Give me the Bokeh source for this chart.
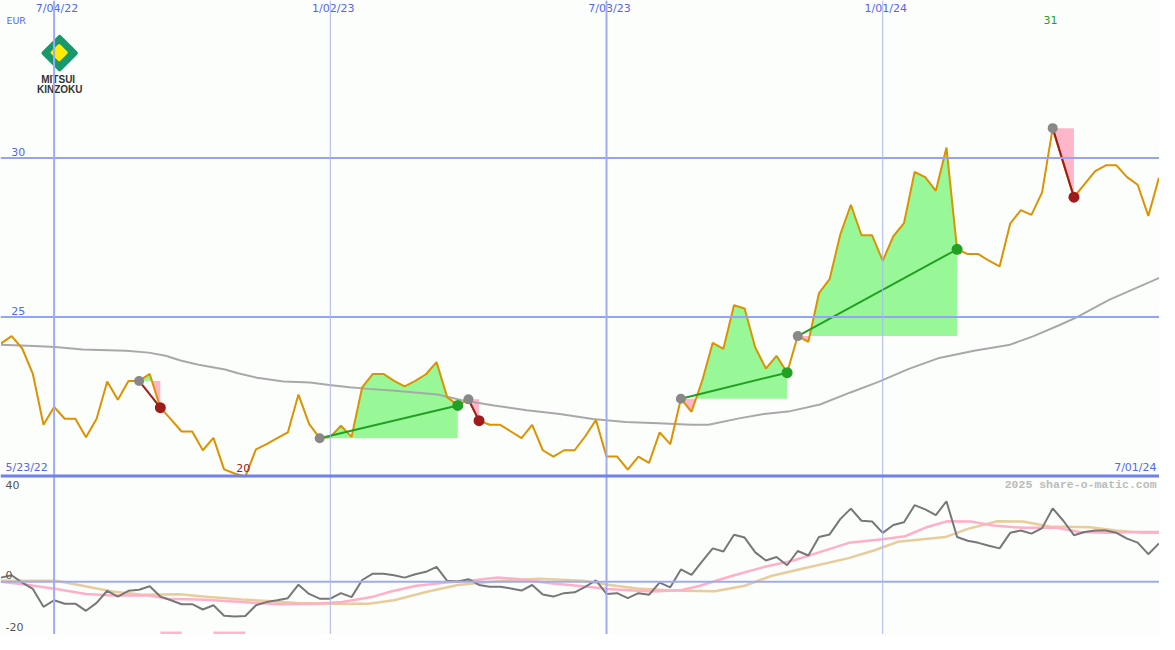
import numpy as np
import pandas as pd
from bokeh.plotting import figure
from bokeh.models import Range1d, Span
from bokeh.embed import file_html
from bokeh.resources import INLINE
from bokeh.core.properties import value

# ---------------- data ----------------
START = pd.Timestamp("2022-05-30")          # first weekly point
price = [24.17, 24.40, 24.01, 23.21, 21.61, 22.17, 21.80, 21.80, 21.22, 21.80,
         22.97, 22.40, 22.99, 22.99, 23.21, 22.15, 21.78, 21.40, 21.40, 20.81,
         21.20, 20.21, 20.08, 19.98, 20.84, 21.00, 21.19, 21.37, 22.56, 21.64,
         21.19, 21.23, 21.58, 21.23, 22.79, 23.21, 23.21, 22.99, 22.82, 22.99,
         23.20, 23.58, 22.48, 22.22, 22.41, 21.74, 21.61, 21.61, 21.40, 21.19,
         21.61, 20.81, 20.61, 20.81, 20.81, 21.25, 21.76, 20.61, 20.61, 20.20,
         20.61, 20.41, 21.37, 21.00, 22.43, 22.02, 22.99, 24.19, 24.00, 25.37,
         25.27, 24.04, 23.38, 23.78, 23.25, 24.40, 24.22, 25.75, 26.19, 27.59,
         28.53, 27.57, 27.57, 26.77, 27.54, 27.95, 29.56, 29.40, 28.97, 30.33,
         27.13, 26.98, 26.98, 26.77, 26.59, 27.94, 28.36, 28.21, 28.92, 30.94,
         29.83, 28.77, 29.18, 29.59, 29.77, 29.77, 29.40, 29.16, 28.18, 29.38]

ma_idx = [0, 3.1, 5.1, 7.7, 11.8, 13.9, 15.5, 16.9, 18.6, 21.1, 22.3, 24.1, 26.6, 29.1,
          30.9, 32.8, 34.6, 37.1, 41.1, 43.4, 46.4, 49.5, 52.6, 55.7, 58.8, 61.9, 65.0,
          66.6, 69.6, 71.8, 74.3, 77.1, 79.9, 82.6, 85.4, 88.2, 91.6, 95.0, 97.2, 99.6,
          101.2, 104.3, 109.1]
ma_val = [24.13, 24.09, 24.06, 23.98, 23.94, 23.88, 23.78, 23.63, 23.50, 23.35, 23.23,
          23.09, 22.97, 22.94, 22.86, 22.79, 22.74, 22.68, 22.56, 22.38, 22.22, 22.07,
          21.95, 21.79, 21.70, 21.66, 21.61, 21.61, 21.82, 21.95, 22.04, 22.25, 22.62,
          22.96, 23.36, 23.70, 23.94, 24.13, 24.40, 24.74, 24.98, 25.54, 26.24]

entry_idx = [13, 30, 44, 64, 75, 99]
exit_idx = [15, 43, 45, 74, 90, 101]

osc_gray = [1.6, 2.5, -0.3, -2.7, -9.5, -7.0, -8.3, -8.3, -11.0, -8.0,
            -3.4, -5.6, -3.4, -3.0, -1.7, -5.6, -7.0, -8.5, -8.5, -10.5,
            -8.9, -12.9, -13.2, -13.0, -8.9, -7.7, -7.0, -6.2, -1.1, -4.6,
            -6.4, -6.4, -4.3, -5.8, 0.7, 3.1, 3.1, 2.5, 1.6, 2.9,
            3.8, 5.7, 0.4, 0.1, 1.0, -1.2, -1.9, -1.9, -2.5, -3.3,
            -1.2, -4.8, -5.6, -4.3, -4.0, -1.9, 0.6, -4.6, -4.3, -6.2,
            -4.3, -4.9, -0.3, -2.1, 4.7, 2.6, 7.8, 12.7, 11.5, 17.9,
            16.8, 11.2, 8.1, 9.4, 6.3, 11.7, 10.0, 17.0, 18.0, 23.8,
            27.8, 23.2, 22.9, 18.6, 21.6, 22.6, 29.1, 27.5, 25.3, 30.6,
            17.0, 15.6, 14.8, 13.7, 12.7, 18.6, 19.5, 18.3, 20.4, 27.9,
            23.2, 17.7, 18.9, 19.5, 19.5, 18.6, 16.4, 14.9, 10.5, 14.6]

pink_idx = [0, 2.1, 5.2, 8.0, 10.5, 14.0, 15.7, 19.2, 22.7, 26.2, 29.7, 32.1, 34.9, 36.7,
            39.1, 41.9, 44.7, 46.8, 48.9, 51.7, 54.8, 57.1, 61.3, 64.1, 65.8, 69.0, 71.8,
            74.6, 77.0, 79.8, 83.0, 85.1, 87.1, 89.1, 91.3, 93.4, 96.2, 99.4, 101.5, 104.3,
            106.7, 109.1]
pink_val = [0.0, -0.9, -2.7, -4.6, -5.2, -5.2, -6.4, -6.8, -7.7, -8.5, -8.3, -7.7, -5.8,
            -3.7, -1.5, -0.3, 0.7, 1.6, 1.0, -0.5, -1.7, -2.7, -3.7, -3.1, -1.5, 2.5, 5.6,
            8.1, 11.2, 14.8, 16.2, 17.3, 20.7, 23.0, 22.9, 21.4, 20.5, 20.5, 18.9, 18.6,
            18.9, 18.9]

tan_idx = [0, 5.2, 7.7, 10.5, 13.3, 16.8, 19.6, 22.7, 25.2, 27.9, 31.4, 34.6, 37.0, 40.2,
           43.0, 45.4, 47.9, 50.6, 54.8, 57.1, 59.9, 63.0, 67.2, 70.0, 72.5, 75.3, 79.8,
           82.3, 84.4, 88.9, 91.0, 93.8, 96.2, 98.7, 102.5, 105.0, 107.4, 109.1]
tan_val = [0.4, 0.4, -1.5, -3.7, -4.9, -4.7, -5.8, -6.7, -7.3, -8.0, -8.3, -8.3, -7.0,
           -3.7, -1.2, -0.3, 0.6, 1.2, 0.4, -1.1, -2.5, -3.3, -3.6, -1.5, 2.2, 4.9, 9.0,
           12.1, 15.2, 17.0, 20.1, 23.0, 22.9, 21.0, 20.7, 19.5, 18.6, 18.6]

bar_left = [15, 20]
bar_right = [17, 23]

vline_dates = ["2022-07-04", "2023-01-02", "2023-07-03", "2024-01-01"]
vline_labels = ["7/04/22", "1/02/23", "7/03/23", "1/01/24"]
vline_major = [True, False, True, False]
price_levels = [30, 25]
first_label, last_label = "5/23/22", "7/01/24"
osc_labels = ["40", "0", "-20"]

# ---------------- geometry ----------------
W, H = 1159, 634
REF_W, REF_H = 1175, 650
PXW = 10.77
X0 = -0.046
X1 = X0 + REF_W / PXW


def dx(px):
    return X0 + px / PXW


def dy(px):
    return 30 - (px - 161.5) / 32.6


def do(px):
    return 40 - (px - 488) * 60.0 / 162.0


BG = "#fcfefc"
BLUE_TXT = "#5566ee"
ORANGE = "#dd9200"
GREEN_FILL = "#98f898"
PINK_FILL = "#ffb6c8"

p = figure(width=W, height=H, x_range=Range1d(X0, X1), y_range=Range1d(dy(REF_H), dy(0)),
           output_backend="svg", toolbar_location=None, min_border=0,
           x_axis_type=None, y_axis_type=None,
           background_fill_color=BG, border_fill_color=BG, outline_line_color=None)
p.extra_y_ranges = {"osc": Range1d(do(REF_H), do(0))}

# grid lines
for lvl in price_levels:
    p.add_layout(Span(location=lvl, dimension="width", line_color="#94a4f4", line_width=2))
p.add_layout(Span(location=0, dimension="width", line_color="#9cacf4", line_width=2,
                  y_range_name="osc"))
vidx = [(pd.Timestamp(d) - START).days / 7.0 for d in vline_dates]
for xi, major in zip(vidx, vline_major):
    p.add_layout(Span(location=xi, dimension="height",
                      line_color="#9eacf4" if major else "#aab6f2",
                      line_width=2 if major else 1))

# trade fills
pr = np.array(price)
for e, x in zip(entry_idx, exit_idx):
    lvl = pr[e]
    xs, ys = [], []
    for i in range(e, x + 1):
        if i > e:
            a, b = pr[i - 1] - lvl, pr[i] - lvl
            if a * b < 0:
                t = a / (a - b)
                xs.append(i - 1 + t)
                ys.append(lvl)
        xs.append(i)
        ys.append(pr[i])
    xs = np.array(xs, dtype=float)
    ys = np.array(ys)
    base = np.full_like(ys, lvl)
    p.varea(x=xs, y1=base, y2=np.maximum(ys, lvl), fill_color=GREEN_FILL)
    p.varea(x=xs, y1=base, y2=np.minimum(ys, lvl), fill_color=PINK_FILL)

# moving average
p.line(ma_idx, ma_val, line_color="#a8a8a8", line_width=2)

# oscillator lines
p.line(tan_idx, tan_val, line_color="#e8cc9c", line_width=2.5, y_range_name="osc")
p.line(pink_idx, pink_val, line_color="#ffb0c8", line_width=2.5, y_range_name="osc")
p.line(list(range(len(osc_gray))), osc_gray, line_color="#777777", line_width=2,
       y_range_name="osc")
p.quad(left=bar_left, right=bar_right, bottom=-20.5, top=-18.9, fill_color=PINK_FILL,
       line_color=None, y_range_name="osc")

# boundary line between panels
p.add_layout(Span(location=20, dimension="width", line_color="#7080ee", line_width=3))

# price
p.line(list(range(len(price))), price, line_color=ORANGE, line_width=2)

# trade lines & dots
for e, x in zip(entry_idx, exit_idx):
    win = pr[x] > pr[e]
    col = "#22a022" if win else "#a01c1c"
    p.line([e, x], [pr[e], pr[x]], line_color=col, line_width=2)
    p.scatter([e], [pr[e]], size=10, fill_color="#888888", line_color=None)
    p.scatter([x], [pr[x]], size=11, fill_color=col, line_color=None)

# ---------------- texts ----------------
F = value("DejaVu Sans")


def txt(xp, yp, s, color, align="left", size="11px", font=F, style="normal", yfun=dy):
    p.text(x=[dx(xp)], y=[yfun(yp)], text=[s], text_color=color, text_align=align,
           text_baseline="middle", text_font=font, text_font_size=size,
           text_font_style=style)


for xi, lab in zip(vidx, vline_labels):
    p.text(x=[xi + 3 / PXW], y=[dy(8)], text=[lab], text_color=BLUE_TXT, text_align="center",
           text_baseline="middle", text_font=F, text_font_size="11px")
txt(6, 20, "EUR", BLUE_TXT, size="9.5px")
for lvl in price_levels:
    p.text(x=[dx(11)], y=[lvl + 6 / 32.6], text=[str(lvl)], text_color=BLUE_TXT,
           text_align="left", text_baseline="middle", text_font=F, text_font_size="11px")
txt(5, 479, first_label, BLUE_TXT)
txt(1172, 479, last_label, BLUE_TXT, align="right")

imin = int(np.argmin(pr))
imax = int(np.argmax(pr))
p.text(x=[imin - 0.2], y=[dy(479)], text=[f"{pr[imin]:.0f}"], text_color="#a01c1c",
       text_align="center", text_baseline="middle", text_font=F, text_font_size="11px")
p.text(x=[imax - 0.2], y=[dy(20)], text=[f"{pr[imax]:.0f}"], text_color="#22a022",
       text_align="center", text_baseline="middle", text_font=F, text_font_size="11px")

txt(1172, 496, "2025 share-o-matic.com", "#bbbbbb", align="right", size="11.5px",
    font=value("Liberation Mono"), style="bold")
for lab, yp in zip(osc_labels, [497, 589, 642]):
    txt(5, yp, lab, "#555555")

# logo
p.scatter([dx(60)], [dy(54)], marker="square", size=23, angle=np.pi / 4,
          fill_color="#17996d", line_color="#17996d", line_width=4, line_join="round")
p.scatter([dx(59.5)], [dy(53.5)], marker="square", size=10, angle=np.pi / 4,
          fill_color="#ffec00", line_color="#ffec00", line_width=3, line_join="round")
txt(58.5, 81, "MITSUI", "#333333", align="center", size="10px", style="bold",
    font=value("Liberation Sans"))
txt(60, 91, "KINZOKU", "#333333", align="center", size="10px", style="bold",
    font=value("Liberation Sans"))

open("out.html", "w").write(file_html(p, INLINE))
